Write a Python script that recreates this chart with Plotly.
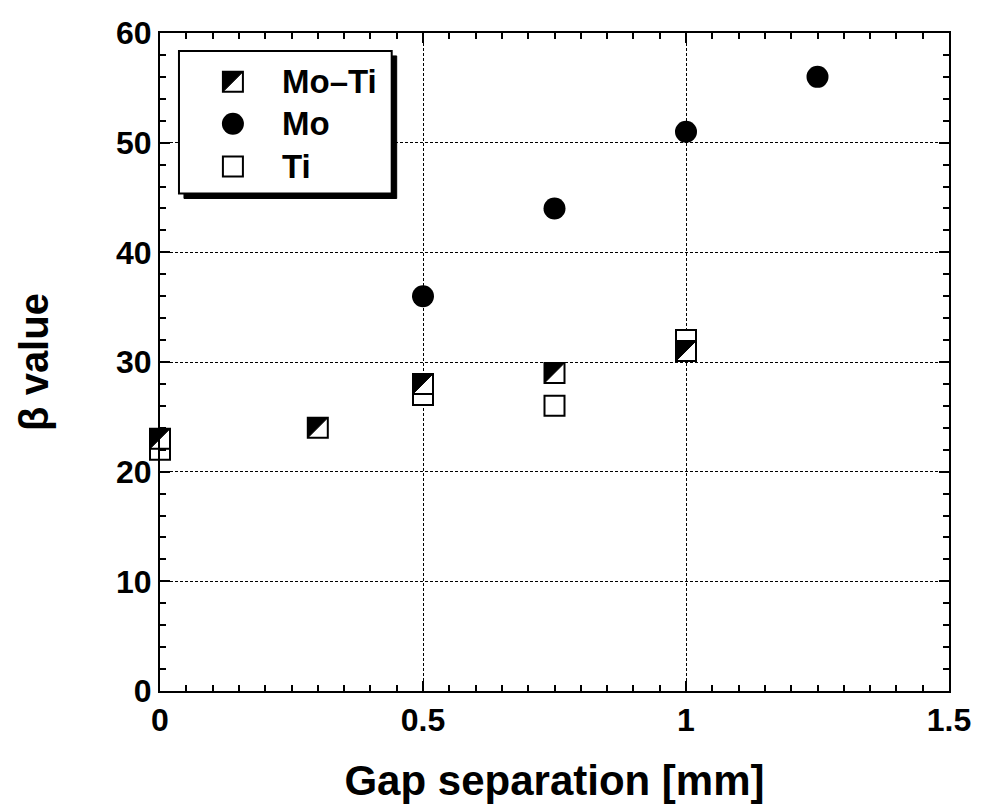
import plotly.graph_objects as go

# ---- data ----
moti_x = [0.0, 0.3, 0.5, 0.75, 1.0]
moti_y = [23, 24, 28, 29, 31]
mo_x = [0.5, 0.75, 1.0, 1.25]
mo_y = [36, 44, 51, 56]
ti_x = [0.0, 0.5, 0.75, 1.0]
ti_y = [22, 27, 26, 32]

x_ticks = [0, 0.5, 1, 1.5]
x_ticklabels = ["0", "0.5", "1", "1.5"]
y_ticks = [0, 10, 20, 30, 40, 50, 60]
x_range = [0, 1.5]
y_range = [0, 60]

FONT = "Liberation Sans, Arial, sans-serif"
MS = 20  # marker size (px)

fig = go.Figure()

# Ti : open square
fig.add_trace(go.Scatter(
    x=ti_x, y=ti_y, mode="markers", name="Ti",
    marker=dict(symbol="square", size=MS, color="white",
                line=dict(color="black", width=2)),
    cliponaxis=False))
# Mo : filled circle
fig.add_trace(go.Scatter(
    x=mo_x, y=mo_y, mode="markers", name="Mo",
    marker=dict(symbol="circle", size=MS + 2, color="black",
                line=dict(color="black", width=0)),
    cliponaxis=False))
# Mo-Ti : half-filled square (outline here, black half drawn as shapes)
fig.add_trace(go.Scatter(
    x=moti_x, y=moti_y, mode="markers", name="Mo-Ti",
    marker=dict(symbol="square", size=MS, color="white",
                line=dict(color="black", width=2)),
    cliponaxis=False))

h = MS / 2
tri_path = f"M {-h},{h} L {h},{h} L {-h},{-h} Z"
shapes = []
# black upper-left half of the Mo-Ti squares, anchored at the data points
# (paper fractions from the axis ranges so they are not clipped at x=0)
for xv, yv in zip(moti_x, moti_y):
    ax = (xv - x_range[0]) / (x_range[1] - x_range[0])
    ay = (yv - y_range[0]) / (y_range[1] - y_range[0])
    shapes.append(dict(type="path", xref="paper", yref="paper",
                       xsizemode="pixel", ysizemode="pixel",
                       xanchor=ax, yanchor=ay, path=tri_path,
                       fillcolor="black", line=dict(color="black", width=1),
                       layer="above"))

# ---- manual legend (paper coordinates) ----
W, H = 790.0, 660.0   # plot area size in px
def px2paper_x(px):
    return (px - 160) / W
def px2paper_y(py):
    return (693 - py) / H

bx0, by0, bx1, by1 = 179, 51, 392, 194
sh = 5
shapes.append(dict(type="rect", xref="paper", yref="paper",
                   x0=px2paper_x(bx0 + sh), x1=px2paper_x(bx1 + sh),
                   y0=px2paper_y(by1 + sh), y1=px2paper_y(by0 + sh),
                   fillcolor="black", line=dict(color="black", width=1),
                   layer="above"))
shapes.append(dict(type="rect", xref="paper", yref="paper",
                   x0=px2paper_x(bx0), x1=px2paper_x(bx1),
                   y0=px2paper_y(by1), y1=px2paper_y(by0),
                   fillcolor="white", line=dict(color="black", width=2),
                   layer="above"))

leg_names = ["Mo-Ti", "Mo", "Ti"]
leg_rows = [82, 124, 167]
leg_mx = 233
sq = f"M {-h},{-h} L {h},{-h} L {h},{h} L {-h},{h} Z"
for name, ry in zip(leg_names, leg_rows):
    ax, ay = px2paper_x(leg_mx), px2paper_y(ry)
    if name == "Mo":
        shapes.append(dict(type="circle", xref="paper", yref="paper",
                           xsizemode="pixel", ysizemode="pixel",
                           xanchor=ax, yanchor=ay, x0=-h - 1, x1=h + 1, y0=-h - 1, y1=h + 1,
                           fillcolor="black", line=dict(color="black", width=0),
                           layer="above"))
    else:
        shapes.append(dict(type="path", xref="paper", yref="paper",
                           xsizemode="pixel", ysizemode="pixel",
                           xanchor=ax, yanchor=ay, path=sq,
                           fillcolor="white", line=dict(color="black", width=2),
                           layer="above"))
        if name == "Mo-Ti":
            shapes.append(dict(type="path", xref="paper", yref="paper",
                               xsizemode="pixel", ysizemode="pixel",
                               xanchor=ax, yanchor=ay, path=tri_path,
                               fillcolor="black", line=dict(color="black", width=1),
                               layer="above"))

annotations = []
for name, ry in zip(leg_names, leg_rows):
    annotations.append(dict(x=px2paper_x(280), y=px2paper_y(ry), xref="paper", yref="paper",
                            text=name.replace("-", "\u2013"), showarrow=False,
                            xanchor="left", yanchor="middle",
                            font=dict(family=FONT, size=33, color="black", weight="bold")))

axis_common = dict(
    showline=True, linecolor="black", linewidth=2, mirror="ticks",
    ticks="inside", ticklen=10, tickwidth=2, tickcolor="black",
    showgrid=True, gridcolor="black", gridwidth=1, griddash="3px,2px",
    zeroline=False,
    tickfont=dict(family=FONT, size=32, color="black", weight="bold"),
)

fig.update_layout(
    width=983, height=808,
    margin=dict(l=160, r=33, t=33, b=115),
    paper_bgcolor="white", plot_bgcolor="white",
    showlegend=False,
    shapes=shapes, annotations=annotations,
    font=dict(family=FONT, color="black"),
    xaxis=dict(range=x_range, tickvals=x_ticks, ticktext=x_ticklabels,
               minor=dict(dtick=0.05, ticks="inside", ticklen=6, tickwidth=1.5,
                          tickcolor="black", showgrid=False),
               title=dict(text="<b>Gap separation [mm]</b>", standoff=28,
                          font=dict(family=FONT, size=42, color="black")),
               **axis_common),
    yaxis=dict(range=y_range, tickvals=y_ticks,
               minor=dict(dtick=2, ticks="inside", ticklen=6, tickwidth=1.5,
                          tickcolor="black", showgrid=False),
               title=dict(text="<b>\u03b2 value</b>", standoff=55,
                          font=dict(family=FONT, size=40, color="black")),
               **axis_common),
)

fig.write_html("out.html")
